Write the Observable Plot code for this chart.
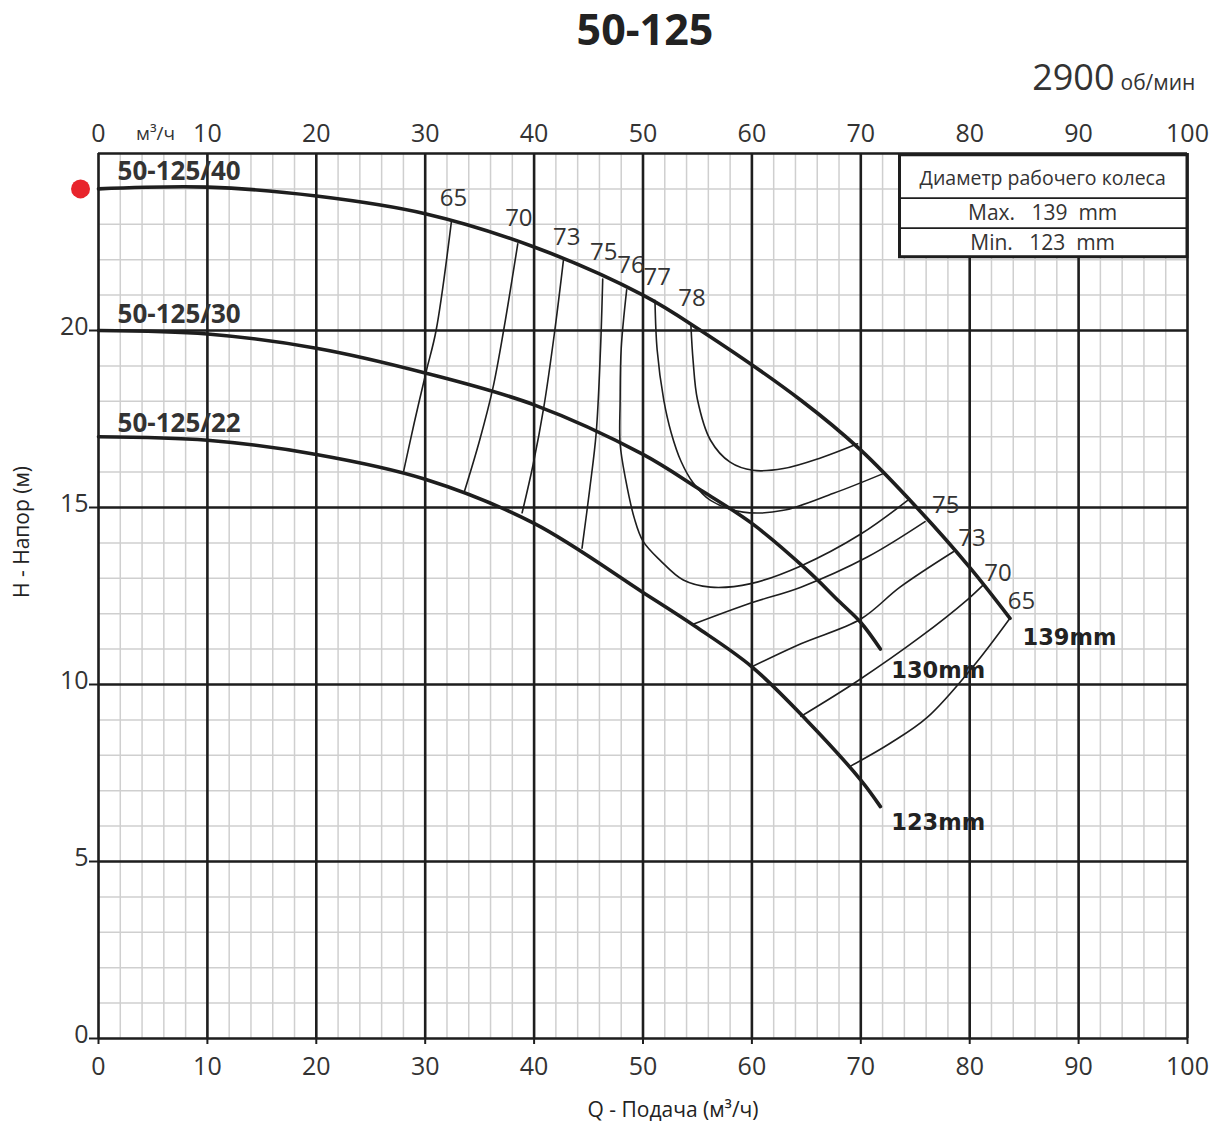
<!DOCTYPE html>
<html>
<head>
<meta charset="utf-8">
<script src="https://cdn.jsdelivr.net/npm/d3@7"></script>
<script src="https://cdn.jsdelivr.net/npm/@observablehq/plot@0.6"></script>
<style>
  html, body { margin: 0; padding: 0; background: #fff; }
  #chart svg { display: block; }
</style>
</head>
<body>
<div id="chart"></div>
<script>
// ---- Data ----
const xMajor = [0, 10, 20, 30, 40, 50, 60, 70, 80, 90, 100];
const yMajor = [0, 5, 10, 15, 20, 25];
const yTickLabels = [0, 5, 10, 15, 20];
const xMinor = d3.range(0, 101, 2);
const yMinor = d3.range(0, 26, 1);

// Head curves: [Q m3/h, H m]
const curve139 = [[0,24.0],[10,24.05],[20,23.8],[30,23.3],[40,22.36],[50,21.0],[55.3,20.0],[64.5,18.03],[70,16.62],[75.2,14.98],[80,13.31],[83.7,11.87]];
const curve130 = [[0,20.0],[10,19.9],[20,19.5],[30,18.8],[40,17.9],[50,16.5],[55,15.55],[60,14.55],[65,13.25],[68,12.35],[70,11.75],[71.8,11.0]];
const curve123 = [[0,17.0],[10,16.9],[20,16.5],[30,15.8],[40,14.55],[50,12.6],[55,11.6],[60,10.5],[65,9.0],[70,7.3],[71.8,6.55]];

// Iso-efficiency lines
const eff65L = [[32.4,23.06],[31.0,20.0],[30.1,18.85],[29.0,17.4],[28.0,16.0]];
const eff70L = [[38.5,22.45],[37.2,20.0],[36.2,18.35],[35.0,16.9],[33.6,15.45]];
const eff73L = [[42.7,22.0],[41.9,20.0],[40.9,17.85],[39.9,16.2],[38.9,14.85]];
const eff75L = [[46.3,21.45],[46.1,19.5],[45.7,17.1],[45.1,15.5],[44.4,13.85]];
const eff76 = [[48.5,21.15],[48.0,19.5],[47.9,18.0],[47.9,16.8],[48.4,15.8],[49.2,14.7],[50.0,14.05],[51.6,13.5],[53.7,12.95],[56.2,12.75],[59.9,12.85],[64.5,13.35],[70.0,14.25],[74.3,15.2]];
const eff77 = [[51.1,20.85],[51.3,19.45],[51.9,18.05],[52.6,17.1],[53.5,16.3],[54.6,15.7],[56.2,15.2],[59.2,14.87],[62.9,14.92],[67.5,15.4],[72.0,15.95]];
const eff78 = [[54.4,20.15],[54.6,19.15],[55.0,18.05],[56.2,16.9],[58.0,16.28],[60.1,16.05],[62.9,16.1],[66.3,16.4],[69.7,16.8]];
const eff75R = [[75.9,14.6],[70.6,13.6],[64.5,12.75],[59.9,12.3],[54.6,11.7]];
const eff73R = [[78.5,13.75],[73.6,12.75],[70.0,11.85],[64.5,11.15],[60.0,10.5]];
const eff70R = [[81.2,12.8],[79.8,12.4],[75.5,11.35],[69.7,10.1],[64.5,9.1]];
const eff65R = [[83.7,11.87],[80.3,10.5],[76.1,9.07],[72.7,8.34],[69.1,7.7]];

// Labels
const effLabels = [
  {t:"65", q:32.6, h:23.74}, {t:"70", q:38.6, h:23.18}, {t:"73", q:43.0, h:22.64},
  {t:"75", q:46.4, h:22.22}, {t:"76", q:48.9, h:21.85}, {t:"77", q:51.3, h:21.51},
  {t:"78", q:54.5, h:20.92},
  {t:"75", q:77.8, h:15.07}, {t:"73", q:80.2, h:14.14}, {t:"70", q:82.6, h:13.14}, {t:"65", q:84.75, h:12.35}
];
const modelLabels = [
  {t:"50-125/40", q:1.75, h:24.48},
  {t:"50-125/30", q:1.75, h:20.46},
  {t:"50-125/22", q:1.75, h:17.38}
];
const diaLabels = [
  {t:"139mm", q:84.85, h:11.33},
  {t:"130mm", q:72.8, h:10.4},
  {t:"123mm", q:72.8, h:6.1}
];
const boxRows = [
  {t:"Диаметр рабочего колеса", h:24.28, size:19.5},
  {t:"Max.   139  mm", h:23.32, size:21},
  {t:"Min.   123  mm", h:22.47, size:21}
];
const box = {q1:73.6, q2:100, h1:22.07, h2:24.95, div1:23.74, div2:22.89, qc:86.7};
const startPoint = [{q:-1.65, h:24.0}];

const toRows = (arr, name) => arr.map(([q, h]) => ({q, h, name}));
const mainCurves = [...toRows(curve139,"139"), ...toRows(curve130,"130"), ...toRows(curve123,"123")];
const effCurves = [
  ...toRows(eff65L,"65L"), ...toRows(eff70L,"70L"), ...toRows(eff73L,"73L"), ...toRows(eff75L,"75L"),
  ...toRows(eff76,"76"), ...toRows(eff77,"77"), ...toRows(eff78,"78"),
  ...toRows(eff75R,"75R"), ...toRows(eff73R,"73R"), ...toRows(eff70R,"70R"), ...toRows(eff65R,"65R")
];

const FONT = "'Open Sans', 'DejaVu Sans', sans-serif";
const ink = "#1e1e1e";
const txt = "#333";

const chart = Plot.plot({
  width: 1222,
  height: 1126,
  marginLeft: 98,
  marginRight: 35,
  marginTop: 153,
  marginBottom: 88,
  style: {fontFamily: FONT, background: "#fff", overflow: "visible"},
  x: {domain: [0, 100], axis: null},
  y: {domain: [0, 25], axis: null},
  marks: [
    // minor grid
    Plot.ruleX(xMinor, {stroke: "#cfcfcf", strokeWidth: 1.5}),
    Plot.ruleY(yMinor, {stroke: "#cfcfcf", strokeWidth: 1.5}),
    // major grid
    Plot.ruleX(xMajor, {stroke: ink, strokeWidth: 2.6}),
    Plot.ruleY(yMajor, {stroke: ink, strokeWidth: 2.6}),
    // tick marks
    Plot.axisX({anchor: "bottom", ticks: xMajor, tickSize: 6, tickFormat: () => "", stroke: ink, strokeWidth: 2}),
    Plot.axisY({anchor: "left", ticks: yTickLabels, tickSize: 9, tickFormat: () => "", stroke: ink, strokeWidth: 2}),
    // tick labels
    Plot.text(xMajor, {x: d => d, frameAnchor: "top", lineAnchor: "middle", dy: -20, fontSize: 25, fill: txt, text: d => String(d)}),
    Plot.text(xMajor, {x: d => d, frameAnchor: "bottom", lineAnchor: "middle", dy: 28, fontSize: 25, fill: txt, text: d => String(d)}),
    Plot.text(yTickLabels, {y: d => d, frameAnchor: "left", lineAnchor: "middle", dx: -10, dy: -4, textAnchor: "end", fontSize: 25, fill: txt, text: d => String(d)}),
    Plot.text(["м³/ч"], {frameAnchor: "top-left", lineAnchor: "middle", textAnchor: "middle", dx: 57, dy: -20, fontSize: 19, fill: txt}),
    // axis titles
    Plot.text(["Q - Подача (м³/ч)"], {frameAnchor: "bottom", lineAnchor: "middle", dx: 30, dy: 72, fontSize: 21, fill: "#222"}),
    Plot.text(["H - Напор (м)"], {frameAnchor: "left", lineAnchor: "middle", dx: -76, dy: 2, rotate: -90, fontSize: 21, fill: "#222"}),
    // title
    Plot.text(["50-125"], {frameAnchor: "top", lineAnchor: "middle", dx: 2, dy: -122, fontSize: 43, fontWeight: "bold", fill: "#222"}),
    Plot.text(["2900"], {frameAnchor: "top-right", lineAnchor: "middle", dx: -73, dy: -75, textAnchor: "end", fontSize: 36, fill: txt}),
    Plot.text(["об/мин"], {frameAnchor: "top-right", lineAnchor: "middle", dx: -67, dy: -70, textAnchor: "start", fontSize: 21, fill: txt}),
    // efficiency lines
    Plot.line(effCurves, {x: "q", y: "h", z: "name", curve: "catmull-rom", stroke: ink, strokeWidth: 1.6}),
    // head curves
    Plot.line(mainCurves, {x: "q", y: "h", z: "name", curve: "catmull-rom", stroke: ink, strokeWidth: 3.6}),
    // efficiency labels
    Plot.text(effLabels, {x: "q", y: "h", text: "t", fontSize: 24, fill: txt}),
    // curve labels
    Plot.text(modelLabels, {x: "q", y: "h", text: "t", textAnchor: "start", fontSize: 26, fontWeight: "bold", fill: txt}),
    Plot.text(diaLabels, {x: "q", y: "h", text: "t", textAnchor: "start", fontSize: 22.5, fontWeight: "bold", fill: "#222", fontFamily: "'DejaVu Sans', sans-serif"}),
    // diameter box
    Plot.rect([box], {x1: "q1", x2: "q2", y1: "h1", y2: "h2", fill: "#fff", stroke: ink, strokeWidth: 3}),
    Plot.ruleY([box.div1, box.div2], {x1: box.q1, x2: box.q2, stroke: ink, strokeWidth: 1.8}),
    Plot.text(boxRows, {x: () => box.qc, y: "h", text: "t", fontSize: d => d.size, fill: txt}),
    // start marker
    Plot.dot(startPoint, {x: "q", y: "h", r: 9.5, fill: "#e8242c", clip: false})
  ]
});
document.getElementById("chart").appendChild(chart);
</script>
</body>
</html>
